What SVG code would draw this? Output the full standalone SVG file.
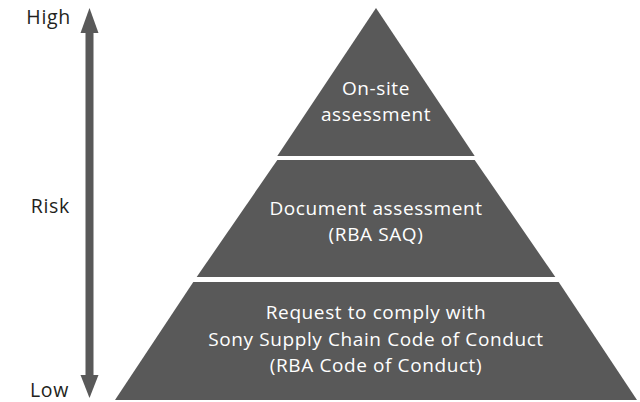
<svg xmlns="http://www.w3.org/2000/svg" width="640" height="402" viewBox="0 0 640 402">
<style>
.tier{fill:#595959}
.t{font-family:"Open Sans","Noto Sans",sans-serif;font-size:19px;letter-spacing:0.6px;fill:#ffffff;text-anchor:middle}
.lbl{font-family:"Open Sans","Noto Sans",sans-serif;font-size:19.5px;letter-spacing:0.7px;fill:#231f20;text-anchor:end}
</style>
<rect width="640" height="402" fill="#ffffff"/>
<g id="axis">
<text class="lbl" x="71" y="24">High</text>
<text class="lbl" x="70" y="213">Risk</text>
<text class="lbl" x="69" y="397">Low</text>
</g>
<g id="connectors">
<rect x="85.5" y="32" width="8" height="344" fill="#595959"/>
<polygon points="89.5,8 98.5,33 80.5,33" fill="#595959"/>
<polygon points="89.5,398 98.5,375 80.5,375" fill="#595959"/>
</g>
<g id="tier-top">
<polygon class="tier" points="376,8 474.7,156 277.3,156"/>
<text class="t" x="376" y="95">On-site</text>
<text class="t" x="376" y="121">assessment</text>
</g>
<g id="tier-middle">
<polygon class="tier" points="277.3,160 474.7,160 555.3,277 196.7,277"/>
<text class="t" x="376" y="215">Document assessment</text>
<text class="t" x="376" y="241">(RBA SAQ)</text>
</g>
<g id="tier-bottom">
<polygon class="tier" points="193.3,282 558.7,282 637,400 115,400"/>
<text class="t" x="376" y="319">Request to comply with</text>
<text class="t" x="376" y="346">Sony Supply Chain Code of Conduct</text>
<text class="t" x="376" y="372">(RBA Code of Conduct)</text>
</g>
</svg>
